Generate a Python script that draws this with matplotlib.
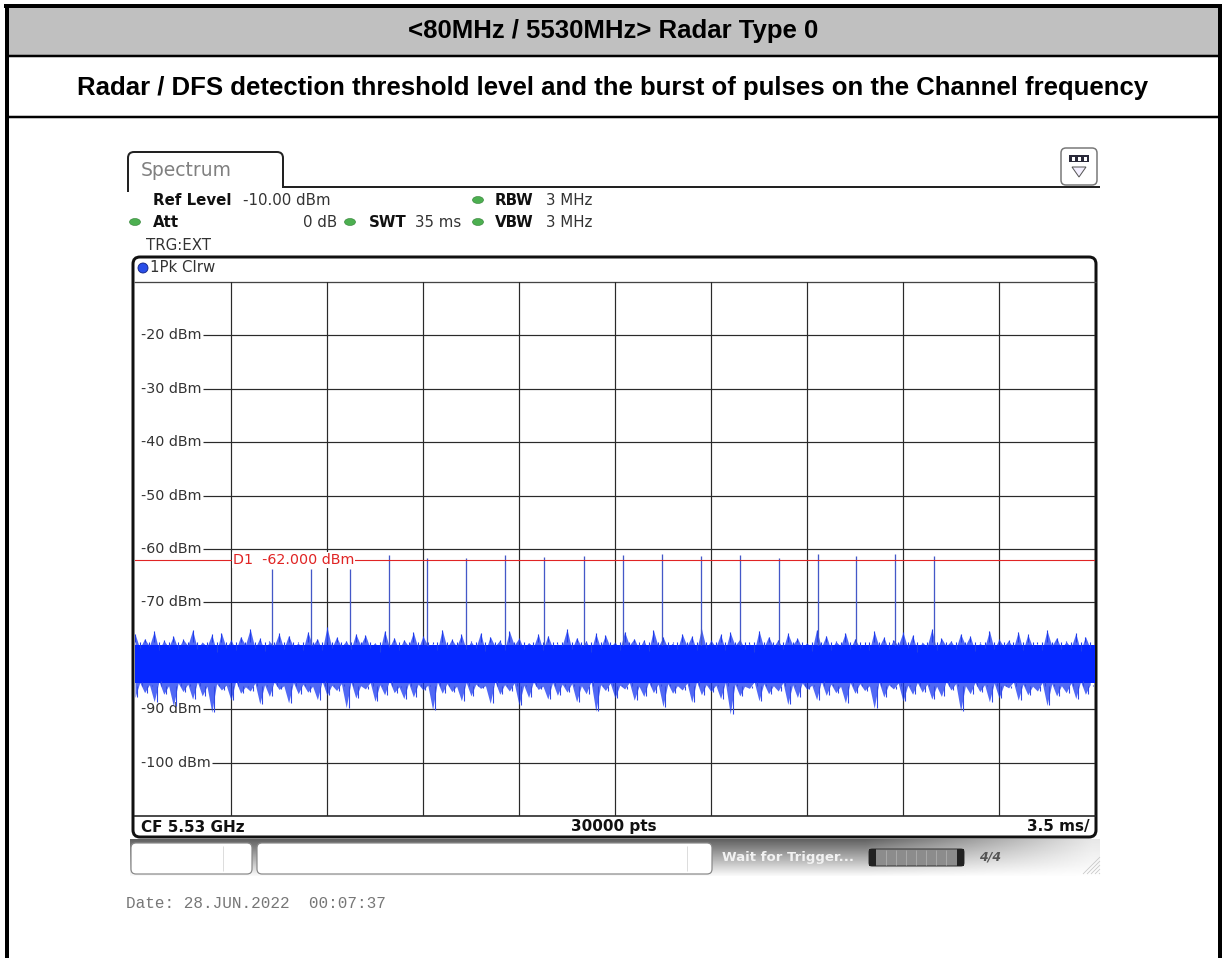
"""Radar Type 0 DFS capture: spectrum-analyzer screenshot inside a report table cell."""

import numpy as np
import matplotlib
matplotlib.use("Agg")
import matplotlib.pyplot as plt
from matplotlib.patches import FancyBboxPatch, Ellipse, Circle, Polygon, Rectangle, PathPatch
from matplotlib.path import Path
from matplotlib.transforms import blended_transform_factory

W, H = 1224, 958

TITLE = "<80MHz / 5530MHz> Radar Type 0"
SUBTITLE = "Radar / DFS detection threshold level and the burst of pulses on the Channel frequency"

# zero span sweep: 35 ms over 10 divisions, ref level -10 dBm, 10 dB/div
SWEEP_MS = 35.0
DIV_MS = 3.5
Y_TOP = -10
Y_BOTTOM = -110
Y_TICKS = [-20, -30, -40, -50, -60, -70, -90, -100]
THRESHOLD = -62.0

# radar burst
pulse_ms = [5.01, 6.41, 7.83, 9.25, 10.65, 12.08, 13.50, 14.92, 16.37,
            17.79, 19.21, 20.63, 22.05, 23.47, 24.89, 26.30, 27.72, 29.13]
pulse_dbm = [-63.8, -63.8, -63.8, -61.2, -61.6, -61.6, -61.2, -61.5, -61.4,
             -61.2, -61.0, -61.4, -61.2, -61.6, -61.0, -61.4, -61.0, -61.4]

# noise floor: solid core, then the peaks (top) and dips (bottom) along the sweep
core_hi = -77.9
core_lo = -85.1
noise_hi = [
    -75.9, -78.6, -76.8, -78.2, -75.4, -79.0, -77.1, -78.4, -76.3, -78.8,
    -76.9, -78.1, -75.2, -78.7, -77.4, -78.3, -76.0, -79.2, -75.7, -78.5,
    -77.0, -78.9, -76.4, -78.0, -75.0, -78.6, -76.7, -79.1, -77.3, -78.2,
    -75.8, -78.7, -76.2, -78.4, -77.6, -78.9, -75.5, -78.1, -76.8, -79.0,
    -74.6, -78.5, -76.5, -78.3, -77.2, -78.8, -75.9, -78.0, -76.1, -78.6,
    -77.5, -79.2, -75.3, -78.4, -76.6, -78.9, -77.0, -78.2, -75.6, -78.7,
    -76.3, -78.1, -77.8, -79.0, -75.1, -78.5, -76.9, -78.3, -76.0, -78.8,
    -77.3, -78.6, -75.7, -79.1, -76.4, -78.2, -77.1, -78.9, -75.4, -78.0,
    -76.7, -78.7, -77.5, -78.4, -75.9, -79.0, -76.2, -78.5, -77.8, -78.1,
    -75.0, -78.8, -76.6, -78.3, -77.2, -79.2, -75.8, -78.6, -76.1, -78.4,
    -77.4, -78.9, -75.5, -78.0, -76.8, -78.7, -77.0, -79.1, -75.2, -78.3,
    -76.5, -78.5, -77.6, -78.8, -75.9, -78.2, -76.3, -79.0, -74.9, -78.6,
    -77.1, -78.4, -76.0, -78.9, -75.6, -78.1, -76.9, -78.7, -77.7, -79.2,
    -75.3, -78.5, -76.4, -78.3, -77.0, -78.8, -75.8, -78.0, -76.7, -78.6,
    -77.5, -79.1, -75.1, -78.4, -76.2, -78.9, -77.3, -78.2, -75.7, -78.7,
    -76.8, -78.5, -77.9, -79.0, -75.4, -78.3, -76.5, -78.8, -77.0, -78.1,
    -75.6, -78.6, -76.1, -79.2, -77.4, -78.4, -75.0, -78.9, -76.7, -78.2,
    -77.2, -78.7, -75.9, -78.0, -76.3, -79.1, -77.6, -78.5, -75.3, -78.8,
    -76.9, -78.3, -77.1, -78.6, -75.5, -79.0, -76.0, -78.4, -77.8, -78.9,
    -75.2, -78.2, -76.6, -78.7, -77.3, -78.5, -75.8, -79.1, -76.4, -78.6,
]
noise_lo = [
    -87.8, -85.0, -86.9, -85.4, -88.6, -84.8, -87.2, -85.6, -89.4, -85.1,
    -86.7, -85.3, -88.1, -84.9, -87.5, -85.7, -90.6, -85.2, -86.4, -85.5,
    -88.3, -84.7, -87.0, -85.8, -86.6, -85.1, -89.0, -85.4, -87.6, -84.9,
    -86.3, -85.6, -88.8, -85.0, -87.1, -85.3, -86.8, -85.7, -88.2, -84.8,
    -87.4, -85.5, -86.5, -85.2, -89.7, -84.9, -87.9, -85.6, -86.2, -85.0,
    -88.5, -85.4, -87.3, -84.7, -86.9, -85.8, -88.0, -85.1, -87.7, -85.3,
    -86.4, -85.5, -90.1, -84.9, -87.0, -85.2, -86.7, -85.7, -88.4, -85.0,
    -87.5, -85.3, -86.1, -85.6, -88.9, -84.8, -87.2, -85.4, -86.6, -85.1,
    -89.2, -85.5, -87.8, -84.9, -86.3, -85.7, -88.1, -85.0, -87.4, -85.3,
    -86.8, -85.2, -88.6, -85.6, -87.1, -84.8, -90.4, -85.4, -86.5, -85.1,
    -87.9, -85.5, -86.2, -85.0, -88.3, -85.7, -87.6, -84.9, -86.9, -85.3,
    -89.5, -85.2, -87.0, -85.6, -86.4, -85.1, -88.7, -84.8, -87.3, -85.4,
    -86.7, -85.5, -88.0, -85.0, -90.9, -85.3, -87.5, -85.7, -86.1, -84.9,
    -88.4, -85.2, -87.1, -85.6, -86.6, -85.0, -89.1, -85.4, -87.8, -85.1,
    -86.3, -85.5, -88.2, -84.8, -87.4, -85.3, -86.9, -85.7, -88.8, -85.0,
    -87.0, -85.2, -86.5, -85.6, -89.8, -84.9, -87.7, -85.4, -86.2, -85.1,
    -88.5, -85.5, -87.2, -85.0, -86.8, -85.3, -88.1, -85.7, -87.6, -84.8,
    -86.4, -85.2, -90.3, -85.6, -87.1, -85.0, -86.7, -85.4, -88.6, -85.1,
    -87.9, -85.5, -86.0, -84.9, -88.3, -85.3, -87.3, -85.7, -86.6, -85.0,
    -89.3, -85.2, -87.5, -85.6, -86.9, -85.1, -88.0, -84.8, -87.2, -85.4,
]

PX = 0.72  # points per pixel at dpi 100

fig = plt.figure(figsize=(W / 100, H / 100), dpi=100)
bg = fig.add_axes([0, 0, 1, 1], zorder=0)
bg.set_xlim(0, W)
bg.set_ylim(H, 0)
bg.axis("off")


def line(x0, y0, x1, y1, px=1.0, color="black", **kw):
    bg.plot([x0, x1], [y0, y1], color=color, lw=px * PX, solid_capstyle="butt", **kw)


def rbox(x, y, w, h, r, ec="black", fc="white", px=1.0, **kw):
    bg.add_patch(FancyBboxPatch((x, y), w, h, boxstyle=f"round,pad=0,rounding_size={r}",
                                ec=ec, fc=fc, lw=px * PX, **kw))


# ---------------- report table ----------------
bg.add_patch(Rectangle((8, 8), 1211, 47, fc="#c0c0c0", ec="none"))
line(4, 6, 1222, 6, px=4)
line(7, 4, 7, H, px=4)
line(1220, 4, 1220, H, px=4)
line(7, 56, 1220, 56, px=2.5)
line(7, 117, 1220, 117, px=2.5)
bg.text(613, 31, TITLE, ha="center", va="center", fontsize=18.5, fontweight="bold",
        family="Liberation Sans")
bg.text(613, 88, SUBTITLE, ha="center", va="center", fontsize=18.5, fontweight="bold",
        family="Liberation Sans")

# ---------------- analyzer chrome ----------------
tab = Path([(128, 192), (128, 158), (128, 152), (134, 152), (277, 152), (283, 152),
            (283, 158), (283, 187), (1100, 187)],
           [Path.MOVETO, Path.LINETO, Path.CURVE3, Path.CURVE3, Path.LINETO, Path.CURVE3,
            Path.CURVE3, Path.LINETO, Path.LINETO])
bg.add_patch(PathPatch(tab, fc="none", ec="#222", lw=2 * PX))
bg.text(141, 170, "Spectrum", ha="left", va="center", fontsize=13.5, color="#808080")

# small icon at top right
rbox(1061, 148, 36, 37, 5, ec="#777", px=1.5)
bg.add_patch(Rectangle((1069, 155), 20, 7, fc="#2a2a3a", ec="none"))
for xx in (1073, 1079, 1085):
    bg.add_patch(Rectangle((xx - 1.5, 156.5), 3, 4, fc="white", ec="none"))
bg.add_patch(Polygon([(1072, 167), (1086, 167), (1079, 177)], closed=True,
                     fc="#f4f0ff", ec="#555", lw=1 * PX))


def dot(x, y):
    bg.add_patch(Ellipse((x, y), 11, 7, fc="#4caf50", ec="#2e7d32", lw=0.4))


fs_hdr = 10.8
bg.text(153, 200, "Ref Level", fontsize=fs_hdr, fontweight="bold", va="center", color="#111")
bg.text(243, 200, "-10.00 dBm", fontsize=fs_hdr, va="center", color="#333")
dot(478, 200)
bg.text(495, 200, "RBW", fontsize=fs_hdr, fontweight="bold", va="center", color="#111")
bg.text(546, 200, "3 MHz", fontsize=fs_hdr, va="center", color="#333")
dot(135, 222)
bg.text(153, 222, "Att", fontsize=fs_hdr, fontweight="bold", va="center", color="#111")
bg.text(337, 222, "0 dB", fontsize=fs_hdr, va="center", ha="right", color="#333")
dot(350, 222)
bg.text(369, 222, "SWT", fontsize=fs_hdr, fontweight="bold", va="center", color="#111")
bg.text(415, 222, "35 ms", fontsize=fs_hdr, va="center", color="#333")
dot(478, 222)
bg.text(495, 222, "VBW", fontsize=fs_hdr, fontweight="bold", va="center", color="#111")
bg.text(546, 222, "3 MHz", fontsize=fs_hdr, va="center", color="#333")
bg.text(146, 245, "TRG:EXT", fontsize=fs_hdr, va="center", color="#333")

# diagram frame
rbox(133, 257, 963, 580, 7, ec="#111", fc="none", px=3)
line(134, 282, 1096, 282, px=1.3, color="#444")
line(134, 816, 1096, 816, px=1.6, color="#222")
bg.add_patch(Circle((143, 268), 5, fc="#2a4ee8", ec="#102080", lw=0.6))
bg.text(150, 268, "1Pk Clrw", fontsize=10.8, va="center", color="#333")
bg.text(141, 827, "CF 5.53 GHz", fontsize=11, fontweight="bold", va="center", color="#111")
bg.text(614, 827, "30000 pts", fontsize=11, fontweight="bold", va="center", ha="center",
        color="#111")
bg.text(1090, 827, "3.5 ms/", fontsize=11, fontweight="bold", va="center", ha="right",
        color="#111")

# status bar
grad = np.linspace(0.38, 0.98, 40)[:, None] * np.ones((1, 60))
grad[:, 45:] = grad[:, 45:] + (1 - grad[:, 45:]) * np.linspace(0, 0.85, 15)[None, :]
bg.imshow(grad, cmap="gray", vmin=0, vmax=1, extent=(130, 1100, 876, 839), aspect="auto",
          zorder=0.5, interpolation="bilinear")
rbox(131, 843, 121, 31, 5, ec="#888", px=1.2, zorder=1)
line(223, 846, 223, 871, px=1, color="#ddd", zorder=1.1)
rbox(257, 843, 455, 31, 5, ec="#888", px=1.2, zorder=1)
line(687, 846, 687, 871, px=1, color="#ddd", zorder=1.1)
bg.text(722, 858, "Wait for Trigger...", fontsize=9.5, fontweight="bold", va="center",
        color="#f2f2f2", zorder=2)
rbox(869, 849, 95, 17, 3, ec="#333", fc="#8c8c8c", px=1, zorder=2)
bg.add_patch(Rectangle((869, 849), 7, 17, fc="#222", ec="none", zorder=2.1))
bg.add_patch(Rectangle((957, 849), 7, 17, fc="#222", ec="none", zorder=2.1))
for k in range(1, 8):
    line(876 + k * 10, 850, 876 + k * 10, 865, px=1, color="#a8a8a8", zorder=2.2)
bg.text(990, 857, "4/4", fontsize=9, fontweight="bold", style="italic", va="center",
        ha="center", color="#555", zorder=2)
for k in range(5):
    line(1083 + k * 4, 874, 1100, 874 - (17 - k * 4), px=0.8, color="#c8c8c8", zorder=2)

bg.text(126, 903, "Date: 28.JUN.2022  00:07:37", fontsize=11.5, family="Liberation Mono",
        va="center", color="#777")

# ---------------- measurement trace ----------------
ax = fig.add_axes([135 / W, (H - 816) / H, 960 / W, 534 / H], zorder=1)
ax.patch.set_alpha(0)
ax.set_xlim(0, SWEEP_MS)
ax.set_ylim(Y_BOTTOM, Y_TOP)
ax.set_axis_off()

for k in range(1, 10):
    ax.axvline(k * DIV_MS, color="#2a2a2a", lw=1.2 * PX, zorder=1)

# level labels sit inside the grid; each grid line starts where its label ends
lbl = blended_transform_factory(ax.transAxes, ax.transData)
labels = [ax.text(6 / 960, v, f"{v} dBm", transform=lbl, ha="left", va="center",
                  fontsize=10.3, color="#333", zorder=2) for v in Y_TICKS]
fig.canvas.draw()
inv = ax.transData.inverted()
for v, t in zip(Y_TICKS, labels):
    x_end = inv.transform((t.get_window_extent().x1 + 1, 0))[0]
    ax.hlines(v, x_end, SWEEP_MS, color="#2a2a2a", lw=1.2 * PX, zorder=1)

# noise floor: solid core with the peaks and dips standing off it
n = len(noise_hi)
t_hi = np.linspace(0, SWEEP_MS, n, endpoint=False)
t_lo = t_hi + SWEEP_MS / n / 2
ax.fill_between(t_hi, noise_lo, noise_hi, color="#1535f2", alpha=0.75, lw=0, zorder=2.9)
ax.fill_between([0, SWEEP_MS], [core_lo, core_lo], [core_hi, core_hi], color="#0526ff",
                lw=0, zorder=3)
ax.vlines(t_hi, core_hi + 0.5, noise_hi, color="#1f3cec", lw=1.1 * PX, zorder=3)
ax.vlines(t_lo, core_lo - 0.5, noise_lo, color="#2f48e6", lw=1.1 * PX, zorder=3)

ax.vlines(pulse_ms, core_hi, pulse_dbm, color="#4458c8", lw=1.3 * PX, zorder=3)

ax.axhline(THRESHOLD, color="#e02424", lw=1.1 * PX, zorder=4)
ax.text((233 - 135) / 960, THRESHOLD, "D1  -62.000 dBm", transform=lbl, ha="left",
        va="center", fontsize=10.3, color="#e02424", zorder=5,
        bbox=dict(fc="white", ec="none", pad=0.6))

fig.savefig("out.png", dpi=100)
